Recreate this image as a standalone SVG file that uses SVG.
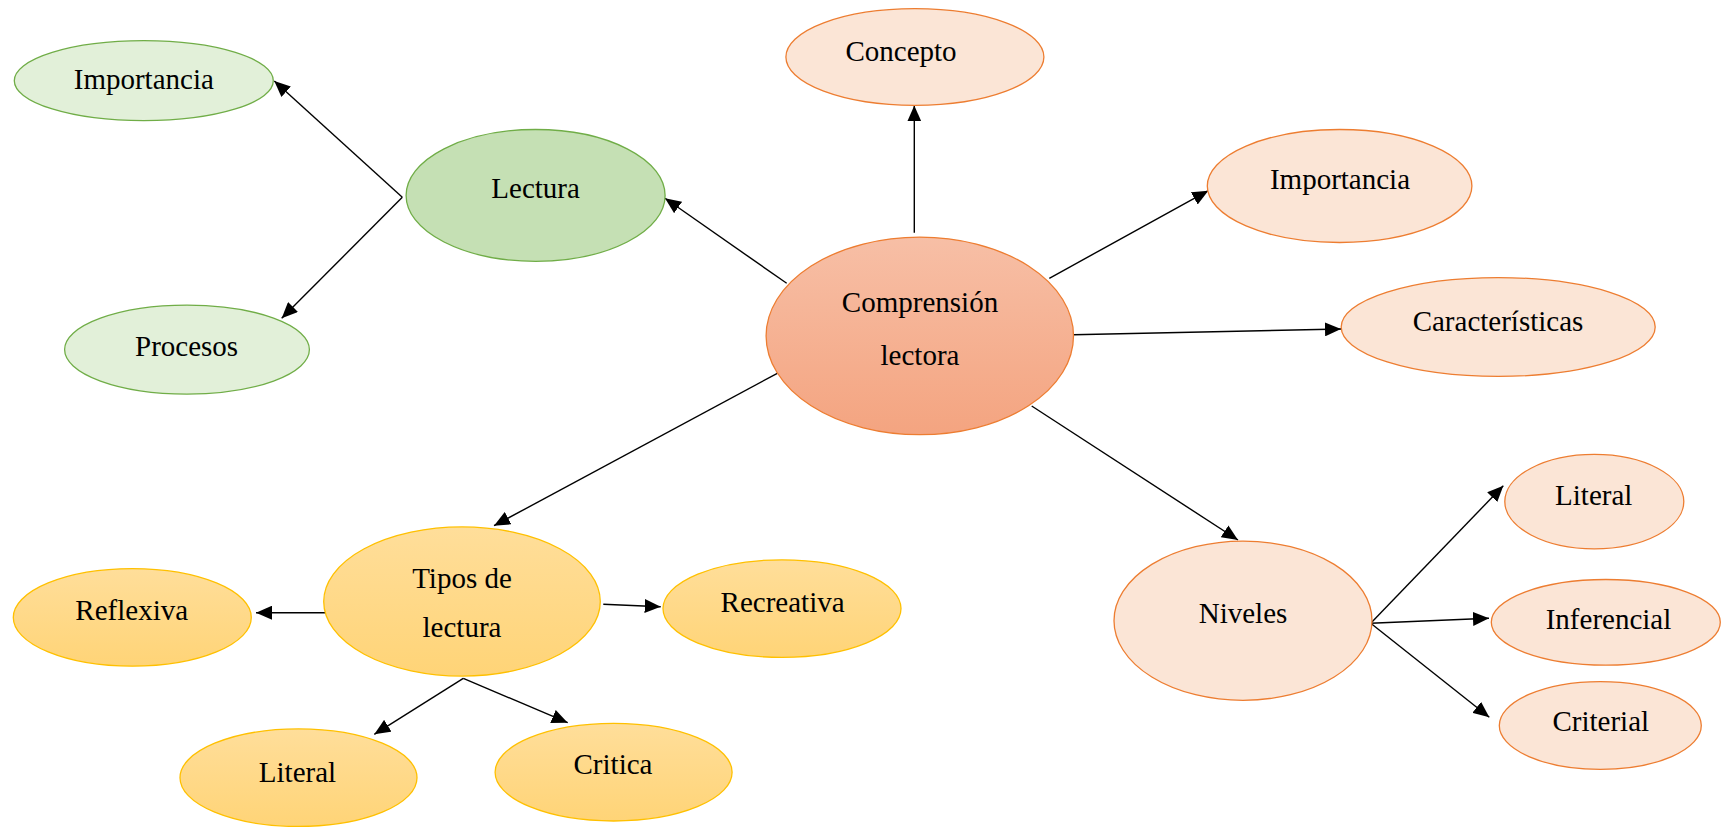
<svg xmlns="http://www.w3.org/2000/svg" width="1721" height="827" viewBox="0 0 1721 827">
<style>
text{font-family:"Liberation Serif","Times New Roman",serif;font-size:29px;fill:#000;text-anchor:middle}
.g1{fill:#E2F0D9;stroke:#70AD47;stroke-width:1.3}
.g2{fill:#C5E0B4;stroke:#70AD47;stroke-width:1.3}
.o1{fill:#FBE5D6;stroke:#ED7D31;stroke-width:1.3}
.o2{fill:url(#gc);stroke:#ED7D31;stroke-width:1.3}
.y1{fill:url(#gy);stroke:#FFC000;stroke-width:1.3}
.c{stroke:#000;stroke-width:1.4;fill:none;marker-end:url(#ah)}
</style>
<defs>
<linearGradient id="gc" x1="0" y1="0" x2="0" y2="1"><stop offset="0" stop-color="#F7BFA6"/><stop offset="1" stop-color="#F4A480"/></linearGradient>
<linearGradient id="gy" x1="0" y1="0" x2="0" y2="1"><stop offset="0" stop-color="#FFDE9A"/><stop offset="1" stop-color="#FFD477"/></linearGradient>
<marker id="ah" markerUnits="userSpaceOnUse" markerWidth="17" markerHeight="14" refX="16" refY="7" orient="auto"><path d="M0,0 L16,7 L0,14 z" fill="#000"/></marker>
</defs>
<g id="connectors">
<line class="c" x1="786.7" y1="283.3" x2="665" y2="198.3"/>
<line class="c" x1="914.3" y1="232.7" x2="914.3" y2="105.4"/>
<line class="c" x1="1049.3" y1="278.3" x2="1208.3" y2="190.7"/>
<line class="c" x1="1073.3" y1="334.7" x2="1341" y2="329"/>
<line class="c" x1="777.3" y1="373.3" x2="494" y2="525.7"/>
<line class="c" x1="1031.7" y1="406" x2="1238" y2="540"/>
<line class="c" x1="402.3" y1="197.3" x2="274.3" y2="81"/>
<line class="c" x1="402.3" y1="197.3" x2="281.7" y2="318.3"/>
<line class="c" x1="326.7" y1="612.7" x2="256" y2="612.7"/>
<line class="c" x1="603.3" y1="604.3" x2="660.7" y2="606.7"/>
<line class="c" x1="463.3" y1="678.3" x2="374.3" y2="734.3"/>
<line class="c" x1="463.3" y1="678.3" x2="567.7" y2="722.7"/>
<line class="c" x1="1370.7" y1="623.3" x2="1503.3" y2="485.7"/>
<line class="c" x1="1370.7" y1="623.3" x2="1489" y2="618.3"/>
<line class="c" x1="1370.7" y1="623.3" x2="1489.3" y2="717.3"/>
</g>
<g id="n-importancia-l"><ellipse class="g1" cx="143.8" cy="80.7" rx="129.5" ry="40"/><text x="143.8" y="89">Importancia</text></g>
<g id="n-lectura"><ellipse class="g2" cx="535.6" cy="195.4" rx="129.5" ry="65.9"/><text x="535.6" y="198">Lectura</text></g>
<g id="n-procesos"><ellipse class="g1" cx="187" cy="349.6" rx="122.4" ry="44.5"/><text x="186.6" y="356">Procesos</text></g>
<g id="n-concepto"><ellipse class="o1" cx="914.9" cy="57" rx="129" ry="48.3"/><text x="901" y="61">Concepto</text></g>
<g id="n-importancia-r"><ellipse class="o1" cx="1339.6" cy="186" rx="132.3" ry="56.5"/><text x="1340" y="189">Importancia</text></g>
<g id="n-comprension"><ellipse class="o2" cx="919.8" cy="335.9" rx="153.7" ry="98.8"/><text x="920" y="312">Comprensión</text><text x="920" y="365">lectora</text></g>
<g id="n-caracteristicas"><ellipse class="o1" cx="1498.2" cy="327" rx="157" ry="49.4"/><text x="1498" y="331">Características</text></g>
<g id="n-tipos"><ellipse class="y1" cx="462" cy="601.5" rx="138.3" ry="74.6"/><text x="462" y="588">Tipos de</text><text x="462" y="637">lectura</text></g>
<g id="n-reflexiva"><ellipse class="y1" cx="132.3" cy="617.4" rx="119" ry="48.8"/><text x="131.7" y="620">Reflexiva</text></g>
<g id="n-recreativa"><ellipse class="y1" cx="782" cy="608.6" rx="119" ry="48.8"/><text x="782.6" y="612">Recreativa</text></g>
<g id="n-literal-b"><ellipse class="y1" cx="298.5" cy="777.7" rx="118.5" ry="48.8"/><text x="297.5" y="782">Literal</text></g>
<g id="n-critica"><ellipse class="y1" cx="613.6" cy="772.2" rx="118.5" ry="48.8"/><text x="613" y="774">Critica</text></g>
<g id="n-niveles"><ellipse class="o1" cx="1243" cy="620.7" rx="129" ry="79.6"/><text x="1243" y="623">Niveles</text></g>
<g id="n-literal-r"><ellipse class="o1" cx="1594.3" cy="501.6" rx="89.5" ry="47.2"/><text x="1593.7" y="505">Literal</text></g>
<g id="n-inferencial"><ellipse class="o1" cx="1605.8" cy="622.3" rx="114.5" ry="42.8"/><text x="1608.5" y="629">Inferencial</text></g>
<g id="n-criterial"><ellipse class="o1" cx="1600.3" cy="725.5" rx="101" ry="43.9"/><text x="1600.8" y="731">Criterial</text></g>
</svg>
